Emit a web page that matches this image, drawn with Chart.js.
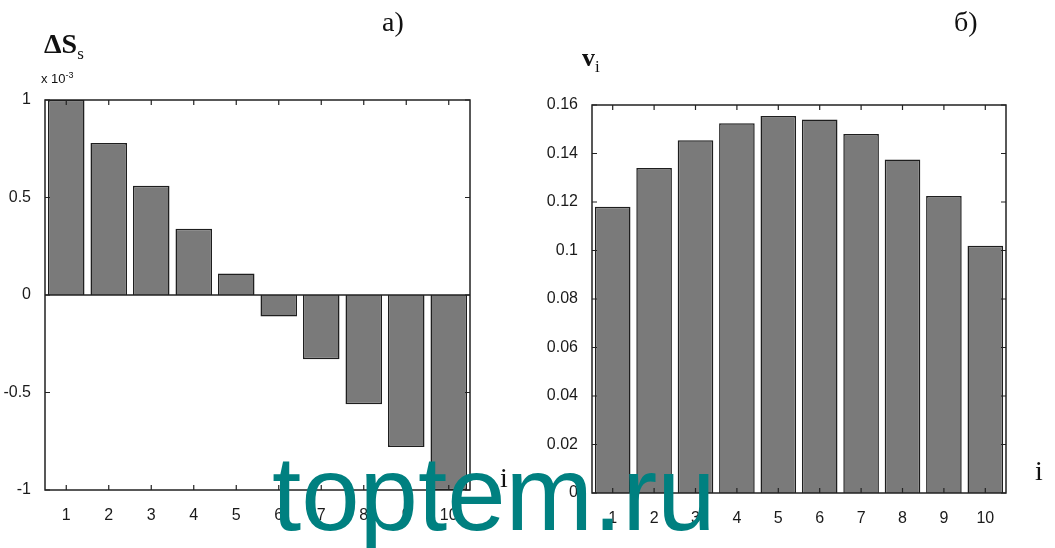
<!DOCTYPE html>
<html>
<head>
<meta charset="utf-8">
<script src="https://cdn.jsdelivr.net/npm/chart.js@4/dist/chart.umd.min.js"></script>
<style>
  body { margin: 0; background: #fff; width: 1055px; height: 548px; overflow: hidden; position: relative; }
  canvas { position: absolute; top: 0; }
  #left { left: 0; }
  #right { left: 520px; }
  .lbl { position: absolute; font-family: "Liberation Serif", "DejaVu Serif", serif; color: #111; white-space: nowrap; }
  .mark { position: absolute; left: 272px; top: 441px; font-family: "Liberation Sans", Arial, sans-serif; font-size: 105px; color: #008080; line-height: 1; }
</style>
</head>
<body>
<canvas id="left" width="520" height="548"></canvas>
<canvas id="right" width="535" height="548"></canvas>

<div class="lbl" style="left:44px;top:28px;font-size:28px;font-weight:bold;">ΔS<span style="font-size:17px;font-weight:normal;position:relative;top:6px;">s</span></div>
<div class="lbl" style="left:41px;top:70px;font-size:13px;font-family:'Liberation Sans',sans-serif;">x 10<sup style="font-size:9px;">-3</sup></div>
<div class="lbl" style="left:382px;top:6px;font-size:28px;">а)</div>
<div class="lbl" style="left:954px;top:6px;font-size:28px;">б)</div>
<div class="lbl" style="left:582px;top:43px;font-size:26px;font-weight:bold;">v<span style="font-size:17px;font-weight:normal;position:relative;top:6px;">i</span></div>
<div class="lbl" style="left:500px;top:462px;font-size:28px;">i</div>
<div class="lbl" style="left:1035px;top:455px;font-size:28px;">i</div>
<div class="mark">toptem.ru</div>

<script>
// bar positions
const categories = ['1', '2', '3', '4', '5', '6', '7', '8', '9', '10'];

// a) ΔS_s, in units of 1e-3
const deltaS = [1.0, 0.78, 0.56, 0.34, 0.11, -0.11, -0.33, -0.56, -0.78, -1.0];
const leftTicks = [-1, -0.5, 0, 0.5, 1];

// б) v_i
const vValues = [0.118, 0.134, 0.1455, 0.1525, 0.1555, 0.154, 0.148, 0.1375, 0.1225, 0.102];
const rightTicks = [0, 0.02, 0.04, 0.06, 0.08, 0.1, 0.12, 0.14, 0.16];

const tickFont = { family: "'Liberation Sans', Arial, sans-serif", size: 16 };

// matlab-like box, inward ticks and zero baseline
const boxPlugin = {
    id: 'box',
    afterDatasetsDraw(chart) {
        const ctx = chart.ctx;
        const a = chart.chartArea;
        const xs = chart.scales.x, ys = chart.scales.y;
        ctx.save();
        ctx.strokeStyle = '#222';
        ctx.lineWidth = 1.5;
        ctx.strokeRect(a.left, a.top, a.right - a.left, a.bottom - a.top);
        ctx.lineWidth = 1.2;
        ctx.beginPath();
        xs.ticks.forEach((t, i) => {
            const x = xs.getPixelForTick(i);
            ctx.moveTo(x, a.bottom); ctx.lineTo(x, a.bottom - 5);
            ctx.moveTo(x, a.top); ctx.lineTo(x, a.top + 5);
        });
        ys.ticks.forEach((t, i) => {
            const y = ys.getPixelForTick(i);
            ctx.moveTo(a.left, y); ctx.lineTo(a.left + 5, y);
            ctx.moveTo(a.right, y); ctx.lineTo(a.right - 5, y);
        });
        ctx.stroke();
        if (chart.options.plugins.box && chart.options.plugins.box.zero) {
            const y0 = ys.getPixelForValue(0);
            ctx.lineWidth = 1.5;
            ctx.beginPath();
            ctx.moveTo(a.left, y0); ctx.lineTo(a.right, y0);
            ctx.stroke();
        }
        ctx.restore();
    }
};

function makeChart(id, values, yTicks, yMin, yMax, pad, yWidth, xHeight, zero, fmt) {
    return new Chart(document.getElementById(id), {
        type: 'bar',
        data: {
            labels: categories,
            datasets: [{
                data: values,
                backgroundColor: '#7a7a7a',
                borderColor: '#1e1e1e',
                borderWidth: 1.5,
                barPercentage: 0.86,
                categoryPercentage: 1
            }]
        },
        options: {
            responsive: false,
            animation: false,
            layout: { padding: pad },
            plugins: { legend: { display: false }, tooltip: { enabled: false }, box: { zero: zero } },
            scales: {
                x: {
                    grid: { display: false },
                    border: { display: false },
                    ticks: { color: '#1a1a1a', font: tickFont, padding: 8, maxRotation: 0 },
                    afterFit(s) { s.height = xHeight; }
                },
                y: {
                    min: yMin, max: yMax,
                    grid: { display: false },
                    border: { display: false },
                    afterBuildTicks(s) { s.ticks = yTicks.map(v => ({ value: v })); },
                    ticks: { color: '#1a1a1a', font: tickFont, padding: 6, callback: fmt },
                    afterFit(s) { s.width = yWidth; }
                }
            }
        },
        plugins: [boxPlugin]
    });
}

makeChart('left', deltaS, leftTicks, -1, 1,
    { top: 100, right: 50, left: 0, bottom: 0 }, 45, 58, true, v => String(v));
makeChart('right', vValues, rightTicks, 0, 0.16,
    { top: 105, right: 49, left: 0, bottom: 0 }, 72, 55, false, v => String(+v.toFixed(2)));
</script>
</body>
</html>
